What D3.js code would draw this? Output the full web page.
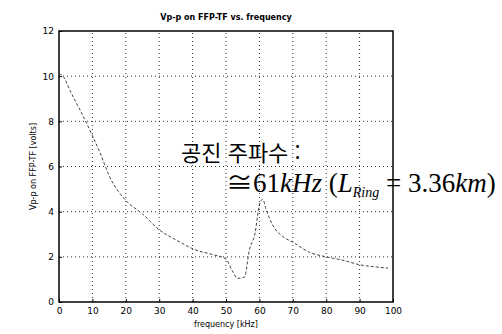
<!DOCTYPE html>
<html lang="ko">
<head>
<meta charset="UTF-8">
<title>Vp-p on FFP-TF vs. frequency</title>
<script src="https://d3js.org/d3.v7.min.js"></script>
<style>
    body { margin: 0; background: #fff; }
    .tick text { font-family: 'DejaVu Sans', sans-serif; font-size: 9px; fill: #000; }
    .lbl { font-family: 'DejaVu Sans', sans-serif; font-size: 8px; fill: #000; }
    .ann { font-family: 'Liberation Serif', serif; fill: #000; }
</style>
</head>
<body>
<script>
    const width = 502, height = 334;
    const margin = {left: 59, right: 109, top: 31, bottom: 32};

    const freq = [0, 1.2, 3.5, 6.3, 9.9, 12.3, 15.3, 20, 25, 30, 35, 41, 46, 50, 51.8, 53.5, 55.5, 57, 58.7, 60, 61, 62, 64, 67, 70, 75, 80, 85, 90, 95, 98.5];
    const vpp  = [10.1, 10.0, 9.3, 8.5, 7.4, 6.6, 5.5, 4.5, 3.9, 3.2, 2.75, 2.3, 2.1, 1.9, 1.4, 1.05, 1.1, 2.3, 3.05, 4.3, 4.55, 4.1, 3.4, 2.9, 2.65, 2.2, 2.0, 1.85, 1.65, 1.55, 1.5];
    const xTicks = [0, 10, 20, 30, 40, 50, 60, 70, 80, 90, 100];
    const yTicks = [0, 2, 4, 6, 8, 10, 12];

    const svg = d3.select("body").append("svg").attr("width", width).attr("height", height);

    const x = d3.scaleLinear().domain([0, 100]).range([margin.left, width - margin.right]);
    const y = d3.scaleLinear().domain([0, 12]).range([height - margin.bottom, margin.top]);

    // grid
    svg.append("g").selectAll("line.gx")
        .data(xTicks.slice(1, -1)).enter().append("line")
        .attr("x1", d => x(d)).attr("x2", d => x(d))
        .attr("y1", y(0)).attr("y2", y(12))
        .attr("stroke", "#000").attr("stroke-width", 0.8).attr("stroke-dasharray", "1,3");
    svg.append("g").selectAll("line.gy")
        .data(yTicks.slice(1, -1)).enter().append("line")
        .attr("y1", d => y(d)).attr("y2", d => y(d))
        .attr("x1", x(0)).attr("x2", x(100))
        .attr("stroke", "#000").attr("stroke-width", 0.8).attr("stroke-dasharray", "1,3");

    // axes
    svg.append("g").attr("transform", `translate(0,${y(0)})`)
        .call(d3.axisBottom(x).tickValues(xTicks).tickSize(-3).tickPadding(6))
        .call(g => g.select(".domain").remove());
    svg.append("g").attr("transform", `translate(${x(0)},0)`)
        .call(d3.axisLeft(y).tickValues(yTicks).tickSize(-3).tickPadding(5))
        .call(g => g.select(".domain").remove());

    svg.append("rect")
        .attr("x", x(0)).attr("y", y(12))
        .attr("width", x(100) - x(0)).attr("height", y(0) - y(12))
        .attr("fill", "none").attr("stroke", "#000").attr("stroke-width", 1.5);

    // curve
    const line = d3.line().x((d, i) => x(freq[i])).y(d => y(d)).curve(d3.curveMonotoneX);
    svg.append("path")
        .attr("d", line(vpp))
        .attr("fill", "none").attr("stroke", "#444").attr("stroke-width", 1)
        .attr("stroke-dasharray", "3,2");

    // labels
    svg.append("text").attr("class", "lbl")
        .attr("x", x(50)).attr("y", 20).attr("text-anchor", "middle")
        .style("font-weight", "bold")
        .text("Vp-p on FFP-TF vs. frequency");
    svg.append("text").attr("class", "lbl")
        .attr("x", x(50)).attr("y", 327).attr("text-anchor", "middle")
        .text("frequency [kHz]");
    svg.append("text").attr("class", "lbl")
        .attr("transform", `translate(36,${y(6)}) rotate(-90)`)
        .attr("text-anchor", "middle")
        .text("Vp-p on FFP-TF  [volts]");

    // annotation
    svg.append("text")
        .attr("x", 181).attr("y", 161)
        .style("font-family", "'Noto Sans CJK KR', sans-serif").style("font-size", "22px")
        .text("공진 주파수 :");

    const ann = svg.append("text").attr("class", "ann")
        .attr("x", 226).attr("y", 192).style("font-size", "27px");
    ann.append("tspan").text("≅61");
    ann.append("tspan").style("font-style", "italic").text("kHz");
    ann.append("tspan").text(" (");
    ann.append("tspan").style("font-style", "italic").text("L");
    ann.append("tspan").style("font-style", "italic").style("font-size", "14px").attr("dy", 5).text("Ring");
    ann.append("tspan").attr("dy", -5).text(" = 3.36");
    ann.append("tspan").style("font-style", "italic").text("km");
    ann.append("tspan").text(")");
</script>
</body>
</html>
